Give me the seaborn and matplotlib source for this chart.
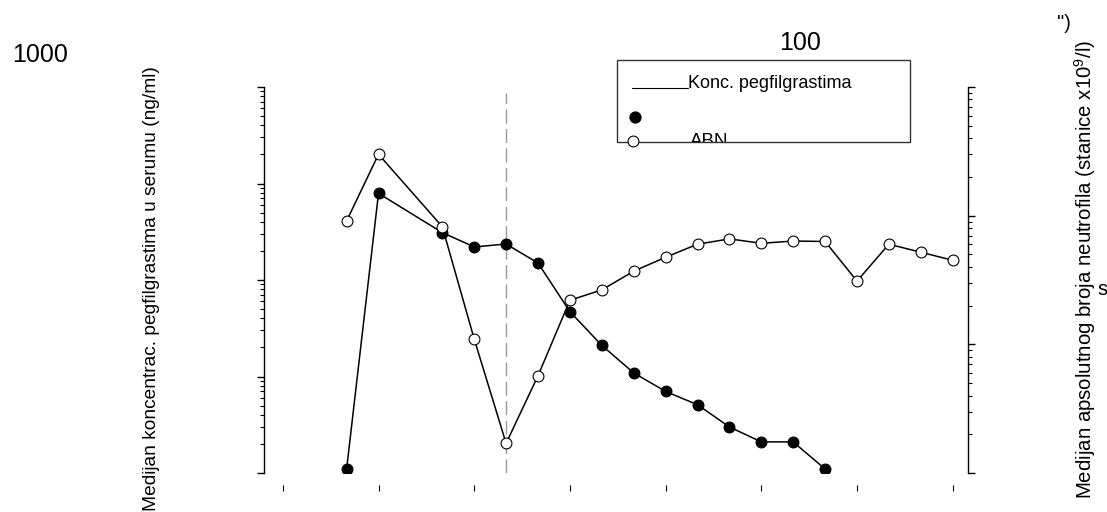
import numpy as np
import pandas as pd
import matplotlib
matplotlib.use('Agg')
import matplotlib.pyplot as plt
from matplotlib.lines import Line2D
from matplotlib.patches import Rectangle
from matplotlib.transforms import Bbox, TransformedBbox
import seaborn as sns

# median serum pegfilgrastim concentration (ng/ml), filled markers
conc_days = [2, 3, 5, 6, 7, 8, 9, 10, 11, 12, 13, 14, 15, 16, 17]
conc_values = [0.11, 79, 31, 22, 23.6, 15, 4.7, 2.1, 1.09, 0.70, 0.51, 0.30, 0.21, 0.21, 0.11]

# median absolute neutrophil count (cells x10^9/l), open markers
anc_days = [2, 3, 5, 6, 7, 8, 9, 10, 11, 12, 13, 14, 15, 16, 17, 18, 19, 20, 21]
anc_values = [9.1, 30, 8.2, 1.1, 0.17, 0.57, 2.2, 2.65, 3.7, 4.75, 6.0, 6.6, 6.1, 6.35, 6.3,
              3.1, 6.0, 5.2, 4.5]

x_ticks = [0, 3, 6, 9, 12, 15, 18, 21]
dose_day = 7

sns.set_theme(style='white')
plt.rcParams['font.family'] = ['Liberation Sans', 'DejaVu Sans']
plt.rcParams['text.color'] = 'black'
plt.rcParams['mathtext.fontset'] = 'custom'
plt.rcParams['mathtext.rm'] = 'Liberation Sans'
plt.rcParams['mathtext.it'] = 'Liberation Sans:italic'

W, H = 1107, 512
fig = plt.figure(figsize=(W / 100, H / 100), dpi=100)
ax = fig.add_axes([264 / W, 1 - 473 / H, (968 - 264) / W, (473 - 87) / H])


def fx(px):
    return px / W


def fy(py):
    return 1 - py / H


conc = pd.DataFrame({'day': conc_days, 'value': conc_values})
anc = pd.DataFrame({'day': anc_days, 'value': anc_values})

ax.axvline(dose_day, color='#999999', lw=1.0, ls=(0, (10, 4)), ymax=0.985, zorder=1)
sns.lineplot(data=conc, x='day', y='value', ax=ax, color='black', lw=1.1,
             marker='o', markersize=7.8, markerfacecolor='black',
             markeredgecolor='black', markeredgewidth=0.8, zorder=3)
ax.set_yscale('log')
ax.set_ylim(0.1, 1000)
ax.set_xlim(-0.59, 21.48)
ax.set_xticks(x_ticks)

ax2 = ax.twinx()
sns.lineplot(data=anc, x='day', y='value', ax=ax2, color='black', lw=1.1,
             marker='o', markersize=7.8, markerfacecolor='white',
             markeredgecolor='black', markeredgewidth=0.8, zorder=3)
ax2.set_yscale('log')
ax2.set_ylim(0.1, 100)

for a in (ax, ax2):
    a.set_xlabel('')
    a.set_ylabel('')
    a.set_facecolor('none')
    for s in a.spines.values():
        s.set_visible(False)
        s.set_linewidth(1.0)
        s.set_color('black')
    a.grid(False)

ax.spines['left'].set_visible(True)
ax2.spines['right'].set_visible(True)
ax.spines['bottom'].set_position(('outward', 8.6))

ax.tick_params(axis='y', which='major', direction='out', length=5, width=1,
               color='black', labelleft=False, left=True)
ax.tick_params(axis='y', which='minor', direction='out', length=3, width=0.8,
               color='black', left=True)
ax.tick_params(axis='x', which='major', direction='out', length=4.3, width=0.8,
               color='black', labelbottom=False, bottom=True)
ax.tick_params(axis='x', which='minor', bottom=False)
ax2.tick_params(axis='y', which='major', direction='out', length=5, width=1,
                color='black', labelright=False, right=True)
ax2.tick_params(axis='y', which='minor', direction='out', length=3, width=0.8,
                color='black', right=True)

# stray axis labels
fig.text(fx(12), fy(62), '1000', fontsize=18, ha='left', va='baseline')
fig.text(fx(800), fy(50), '100', fontsize=18, ha='center', va='baseline')

fig.text(fx(152), fy(66), 'Medijan koncentrac. pegfilgrastima u serumu (ng/ml)',
         rotation=90, fontsize=13.8, ha='center', va='top')
fig.text(fx(1085), fy(40), 'Medijan apsolutnog broja neutrofila (stanice x10$^{9}$/l)',
         rotation=90, fontsize=14.7, ha='center', va='top')
fig.text(fx(1057), fy(29), '")', fontsize=14.5, ha='left', va='baseline')
fig.text(fx(1097), fy(295), 's', fontsize=14.5, ha='left', va='baseline')

# legend box
box = Rectangle((fx(617), fy(142)), (910 - 617) / W, (142 - 60) / H,
                transform=fig.transFigure, fill=False, edgecolor='#333333', lw=1.0)
fig.add_artist(box)
fig.add_artist(Line2D([fx(632), fx(688)], [fy(88), fy(88)], transform=fig.transFigure,
                      color='black', lw=0.8))
fig.text(fx(688), fy(88), 'Konc. pegfilgrastima', fontsize=13, ha='left', va='baseline')
fig.add_artist(Line2D([fx(635)], [fy(117)], transform=fig.transFigure, ls='none',
                      marker='o', markersize=7.8, markerfacecolor='black',
                      markeredgecolor='black'))
fig.add_artist(Line2D([fx(633)], [fy(141)], transform=fig.transFigure, ls='none',
                      marker='o', markersize=7.8, markerfacecolor='white',
                      markeredgecolor='black', markeredgewidth=0.8))
abn = fig.text(fx(690), fy(145.5), 'ABN', fontsize=13.5, ha='left', va='baseline')
abn.set_clip_box(TransformedBbox(Bbox([[fx(617), fy(142)], [fx(910), fy(60)]]),
                                 fig.transFigure))
abn.set_clip_on(True)

fig.savefig('out.png', dpi=100)
